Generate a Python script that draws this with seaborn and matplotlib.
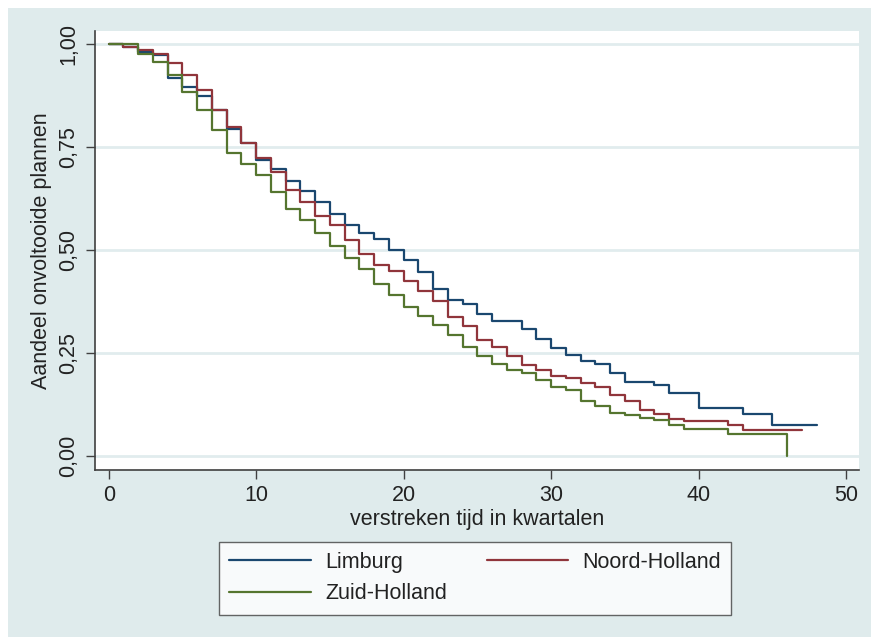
import numpy as np
import pandas as pd
import matplotlib
matplotlib.use("Agg")
import matplotlib.pyplot as plt
import seaborn as sns

# Kaplan-Meier schattingen per kwartaal (waarde geldt vanaf tijdstip t)
limburg = [1.000, 0.993, 0.981, 0.973, 0.918, 0.896, 0.874, 0.841, 0.795, 0.760,
           0.720, 0.696, 0.667, 0.643, 0.616, 0.587, 0.561, 0.543, 0.528, 0.500,
           0.477, 0.448, 0.407, 0.380, 0.369, 0.345, 0.328, 0.328, 0.308, 0.284,
           0.263, 0.247, 0.231, 0.225, 0.201, 0.180, 0.180, 0.174, 0.154, 0.154,
           0.118, 0.118, 0.118, 0.102, 0.102, 0.075, 0.075, 0.075, 0.075]
noord_holland = [1.000, 0.993, 0.985, 0.975, 0.955, 0.926, 0.890, 0.841, 0.800, 0.760,
                 0.723, 0.690, 0.646, 0.616, 0.583, 0.561, 0.524, 0.492, 0.464, 0.449,
                 0.426, 0.402, 0.377, 0.339, 0.316, 0.282, 0.265, 0.243, 0.221, 0.209,
                 0.195, 0.189, 0.178, 0.168, 0.148, 0.134, 0.112, 0.102, 0.091, 0.086,
                 0.086, 0.086, 0.075, 0.063, 0.063, 0.063, 0.063, 0.063]
zuid_holland = [1.000, 1.000, 0.977, 0.957, 0.925, 0.883, 0.840, 0.791, 0.736, 0.709,
                0.682, 0.642, 0.599, 0.573, 0.541, 0.510, 0.482, 0.454, 0.419, 0.392,
                0.362, 0.341, 0.319, 0.295, 0.265, 0.243, 0.223, 0.209, 0.201, 0.184,
                0.168, 0.160, 0.135, 0.121, 0.104, 0.100, 0.094, 0.089, 0.075, 0.066,
                0.066, 0.066, 0.055, 0.055, 0.055, 0.055, 0.000]

regions = ["Limburg", "Noord-Holland", "Zuid-Holland"]
series = [limburg, noord_holland, zuid_holland]
colors = {"Limburg": "#1a476f", "Noord-Holland": "#90353b", "Zuid-Holland": "#55752f"}

x_ticks = [0, 10, 20, 30, 40, 50]
y_ticks = [0, 0.25, 0.5, 0.75, 1.0]
y_ticklabels = ["0,00", "0,25", "0,50", "0,75", "1,00"]

rows = []
for name, vals in zip(regions, series):
    for t, v in enumerate(vals):
        rows.append({"regio": name, "tijd": t, "aandeel": v})
df = pd.DataFrame(rows)

sns.set_theme(style="white")
plt.rcParams["font.family"] = ["Liberation Sans", "DejaVu Sans"]

bg = "#dfebec"
axis_col = "#404040"
fs = 15.5

fig = plt.figure(figsize=(8.71, 6.37), dpi=100)
fig.patch.set_facecolor("white")
fig.patches.append(plt.Rectangle((8 / 871, 0), 1, 1 - 8 / 637, transform=fig.transFigure,
                                 facecolor=bg, edgecolor="none", zorder=-10))

ax = fig.add_axes([95 / 871, 1 - 469.5 / 637, (859 - 95) / 871, (469.5 - 31) / 637])
ax.set_facecolor("white")

sns.lineplot(data=df, x="tijd", y="aandeel", hue="regio", palette=colors,
             hue_order=regions, estimator=None, drawstyle="steps-post",
             linewidth=1.6, ax=ax, legend=False)

ax.set_xlim(-0.93, 50.88)
ax.set_ylim(-0.032, 1.032)
ax.set_xticks(x_ticks)
ax.set_yticks(y_ticks)
ax.set_yticklabels(y_ticklabels, rotation=90, va="center")
ax.tick_params(axis="both", direction="out", length=6.5, width=1.0, color=axis_col,
               labelsize=fs, labelcolor="#222222", pad=5, left=True, bottom=True)
for y in y_ticks:
    ax.axhline(y, color="#e1ecee", linewidth=2, zorder=0)

for side in ["top", "right"]:
    ax.spines[side].set_visible(False)
for side in ["left", "bottom"]:
    ax.spines[side].set_color(axis_col)
    ax.spines[side].set_linewidth(1.2)

ax.set_xlabel("verstreken tijd in kwartalen", fontsize=fs, color="#222222", labelpad=2)
ax.set_ylabel("Aandeel onvoltooide plannen", fontsize=fs, color="#222222", labelpad=4)

handles = [plt.Line2D([], [], color=colors[r], linewidth=1.6) for r in regions]
order = [0, 2, 1]
leg = fig.legend([handles[i] for i in order], [regions[i] for i in order],
                 ncol=2, loc="upper left", bbox_to_anchor=(219 / 871, 1 - 541.5 / 637),
                 frameon=True, fancybox=False, edgecolor=axis_col, fontsize=fs,
                 handlelength=3.8, handletextpad=0.65, columnspacing=1.85,
                 borderpad=0.47, labelspacing=0.5, borderaxespad=0)
leg.get_frame().set_linewidth(1.0)
for txt in leg.get_texts():
    txt.set_color("#222222")

fig.savefig("out.png", dpi=100, facecolor=fig.get_facecolor())
